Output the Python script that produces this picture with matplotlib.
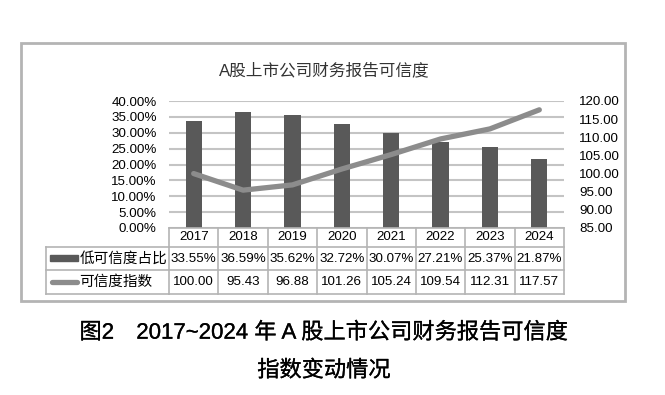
import matplotlib.pyplot as plt
import matplotlib.patheffects as pe
from matplotlib.transforms import blended_transform_factory
from matplotlib.patches import Rectangle
from matplotlib.lines import Line2D

plt.rcParams['font.family'] = ['Liberation Sans', 'Noto Sans CJK SC']

years = ['2017', '2018', '2019', '2020', '2021', '2022', '2023', '2024']
low_share = [33.55, 36.59, 35.62, 32.72, 30.07, 27.21, 25.37, 21.87]
index_vals = [100.00, 95.43, 96.88, 101.26, 105.24, 109.54, 112.31, 117.57]
share_label = '低可信度占比'
index_label = '可信度指数'
title = 'A股上市公司财务报告可信度'
caption1 = '图2　2017~2024 年 A 股上市公司财务报告可信度'
caption2 = '指数变动情况'

left_ticks = [0, 5, 10, 15, 20, 25, 30, 35, 40]
right_ticks = [85, 90, 95, 100, 105, 110, 115, 120]

bar_color = '#595959'
line_color = '#8c8c8c'
grid_color = '#c4c4c4'
border_color = '#b4b4b4'

W, H = 665, 395
fig = plt.figure(figsize=(W / 100, H / 100), dpi=100)
fig.patch.set_facecolor('white')


def fx(px):
    return px / W


def fy(py):
    return 1 - py / H


# main plot area
ax = fig.add_axes([fx(169), fy(228), fx(564) - fx(169), fy(101) - fy(228)])
x = list(range(len(years)))
ax.bar(x, low_share, width=0.33, color=bar_color, zorder=2)
ax.set_xlim(-0.5, len(years) - 0.5)
ax.set_ylim(0, 40)
ax.set_yticks(left_ticks)
ax.set_yticklabels([f'{v:.2f}%' for v in left_ticks], fontsize=9.6)
ax.set_xticks([])
ax.grid(axis='y', color=grid_color, linewidth=1.5)
ax.set_axisbelow(True)
for s in ax.spines.values():
    s.set_visible(False)
ax.tick_params(axis='y', length=0, pad=9)

ax2 = ax.twinx()
ax2.plot(x, index_vals, color=line_color, linewidth=3.8, solid_capstyle='round')
ax2.set_ylim(85, 120)
ax2.set_yticks(right_ticks)
ax2.set_yticklabels([f'{v:.2f}' for v in right_ticks], fontsize=9.6)
for s in ax2.spines.values():
    s.set_visible(False)
ax2.tick_params(axis='y', length=0, pad=11)

# outer chart frame
fig.add_artist(Rectangle((fx(21), fy(301)), fx(625) - fx(21), fy(43) - fy(301),
                         transform=fig.transFigure, fill=False,
                         edgecolor=border_color, linewidth=2))

fig.text(fx(324), fy(70), title, ha='center', va='center', fontsize=12, color='#333333')

# data table under the chart
trans = blended_transform_factory(ax.transData, fig.transFigure)
row_top = [228, 247, 270]
row_bot = [247, 270, 294]
n = len(years)

def hline(x0, x1, ypx, tr):
    fig.add_artist(Line2D([x0, x1], [fy(ypx), fy(ypx)], transform=tr,
                          color=border_color, linewidth=1.2))

def vline(xv, y0px, y1px, tr):
    fig.add_artist(Line2D([xv, xv], [fy(y0px), fy(y1px)], transform=tr,
                          color=border_color, linewidth=1.2))

hline(-0.5, n - 0.5, 228, trans)
for ypx in [247, 270, 294]:
    hline(fx(46), fx(169), ypx, fig.transFigure)
    hline(-0.5, n - 0.5, ypx, trans)
vline(fx(46), 247, 294, fig.transFigure)
for i in range(n + 1):
    vline(i - 0.5, 228, 294, trans)

rows = [years,
        [f'{v:.2f}%' for v in low_share],
        [f'{v:.2f}' for v in index_vals]]
for r, vals in enumerate(rows):
    yc = fy((row_top[r] + row_bot[r]) / 2)
    for i, t in enumerate(vals):
        fig.text(i, yc, t, transform=trans, ha='center', va='center', fontsize=9.6)

# legend keys in the table
fig.add_artist(Rectangle((fx(50), fy(261)), fx(78) - fx(50), fy(255) - fy(261),
                         transform=fig.transFigure, color=bar_color))
fig.add_artist(Line2D([fx(52), fx(77)], [fy(282), fy(282)], transform=fig.transFigure,
                      color=line_color, linewidth=3.8, solid_capstyle='round'))
fig.text(fx(80), fy(258.5), share_label, ha='left', va='center', fontsize=10.5)
fig.text(fx(79), fy(282), index_label, ha='left', va='center', fontsize=10.5)

# figure caption (a touch heavier, like the printed heiti)
heavy = [pe.withStroke(linewidth=0.2, foreground='black')]
fig.text(fx(324), fy(333), caption1, ha='center', va='center', fontsize=16,
         path_effects=heavy)
fig.text(fx(324), fy(371), caption2, ha='center', va='center', fontsize=16,
         path_effects=heavy)

fig.savefig('out.png', dpi=100, facecolor='white')
